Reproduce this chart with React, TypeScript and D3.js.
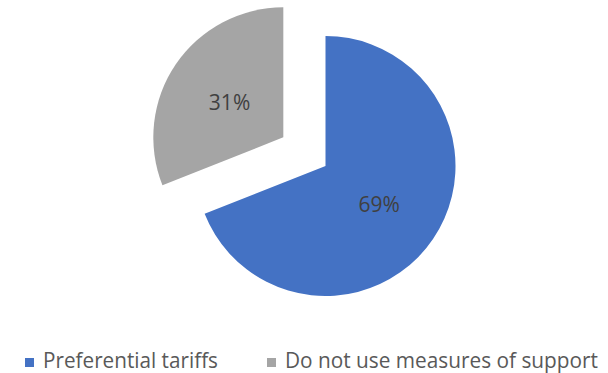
import React from "react";
import * as d3 from "d3";

const categories = ["Preferential tariffs", "Do not use measures of support"];
const values = [69, 31];
const colors = ["#4472C4", "#A5A5A5"];
const explode = [0, 51];

export default function App() {
  const width = 608;
  const height = 373;
  const cx = 325.5;
  const cy = 166;
  const r = 130;
  const pie = d3.pie<number>().sort(null).value((d) => d)(values);
  const arc = d3.arc<d3.PieArcDatum<number>>().innerRadius(0).outerRadius(r);
  const total = d3.sum(values);
  const legendX = [25, 267];
  const legendW = [175, 313];
  return (
    <svg
      width={width}
      height={height}
      style={{ position: "absolute", left: 0, top: 0, background: "#fff" }}
      fontFamily="'Open Sans', sans-serif"
    >
      {pie.map((p, i) => {
        const mid = (p.startAngle + p.endAngle) / 2;
        const dx = Math.sin(mid) * explode[i];
        const dy = -Math.cos(mid) * explode[i];
        const [lx, ly] = arc.centroid(p);
        return (
          <g key={i} transform={`translate(${cx + dx},${cy + dy})`}>
            <path d={arc(p) || ""} fill={colors[i]} />
            <text
              x={lx}
              y={ly + 1}
              textAnchor="middle"
              dominantBaseline="central"
              fontSize={21}
              fill="#404040"
            >
              {Math.round((values[i] / total) * 100)}%
            </text>
          </g>
        );
      })}
      {categories.map((c, i) => (
        <g key={c}>
          <rect x={legendX[i]} y={358} width={9} height={9} fill={colors[i]} />
          <text
            x={legendX[i] + 18}
            y={368}
            fontSize={21}
            fill="#595959"
            textLength={legendW[i]}
            lengthAdjust="spacingAndGlyphs"
          >
            {c}
          </text>
        </g>
      ))}
    </svg>
  );
}
